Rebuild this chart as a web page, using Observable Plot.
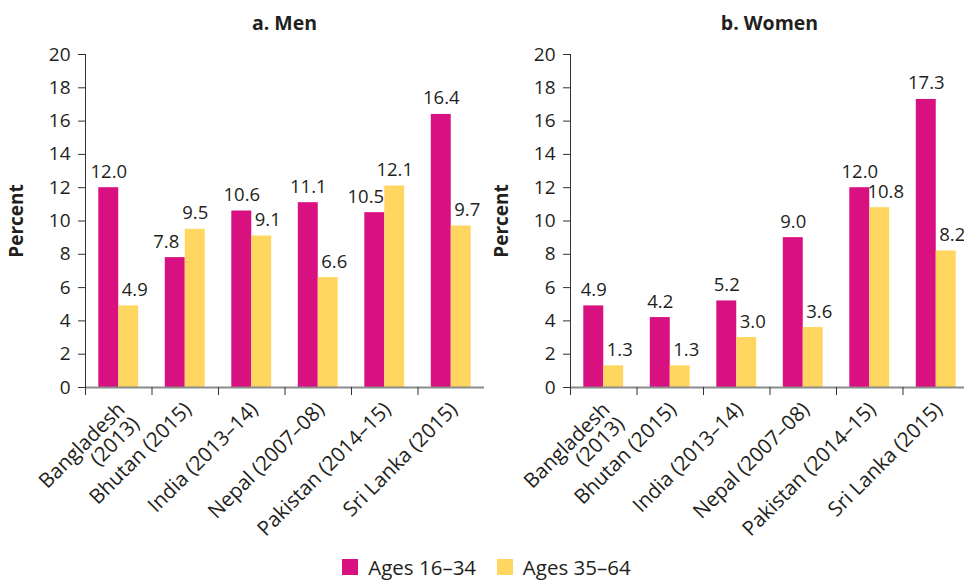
<!DOCTYPE html>
<html><head><meta charset="utf-8">
<script src="https://cdn.jsdelivr.net/npm/d3@7"></script>
<script src="https://cdn.jsdelivr.net/npm/@observablehq/plot@0.6"></script>
<style>
html,body{margin:0;padding:0;background:#fff;overflow:hidden;}
body{width:964px;height:582px;position:relative;font-family:"Open Sans",sans-serif;color:#231f20;}
#row{display:flex;width:964px;}
.panel{overflow:hidden;flex:none;}
.panel svg{max-width:none !important;}
.title{font-weight:bold;font-size:19.5px;height:38px;line-height:30px;padding-top:8px;text-align:center;box-sizing:border-box;}
#legend{position:absolute;left:342px;top:557px;height:20px;}
#legend .lg-swatches-wrap{min-height:0 !important;margin:0 !important;height:20px;}
#legend span{line-height:20px;}
g[aria-label="y-axis label"]{font-weight:bold;font-size:19px;}
g[aria-label="y-axis tick label"]{font-size:19px;}
</style></head><body>
<div id="row"><div class="panel" id="p1" style="width:484px"></div><div class="panel" id="p2" style="width:480px"></div></div>
<div id="legend"></div>
<script>
const countries = ["Bangladesh\n(2013)", "Bhutan (2015)", "India (2013–14)", "Nepal (2007–08)", "Pakistan (2014–15)", "Sri Lanka (2015)"];
const ages = ["Ages 16–34", "Ages 35–64"];
const colors = ["#d9107f", "#ffd65f"];
const menYoung = [12.0, 7.8, 10.6, 11.1, 10.5, 16.4];
const menOld = [4.9, 9.5, 9.1, 6.6, 12.1, 9.7];
const womenYoung = [4.9, 4.2, 5.2, 9.0, 12.0, 17.3];
const womenOld = [1.3, 1.3, 3.0, 3.6, 10.8, 8.2];
const yTicks = [0, 2, 4, 6, 8, 10, 12, 14, 16, 18, 20];
const panelTitles = ["a. Men", "b. Women"];

function panel(el, title, young, old, width, marginLeft) {
  const rows = countries.map((c, i) => ({country: c, young: young[i], old: old[i]}));
  const bw = (width - marginLeft) / countries.length;
  const pad = bw * 0.2, barW = bw * 0.3;
  const cY = -bw / 2 + pad + barW / 2, cO = cY + barW;
  const ink = "#231f20";
  const plot = Plot.plot({
    width, height: 507, marginTop: 16, marginBottom: 158, marginLeft, marginRight: 0,
    style: {fontFamily: "'Open Sans', sans-serif", fontSize: "18.5px", color: ink, background: "white", overflow: "visible", maxWidth: "none"},
    x: {domain: countries, padding: 0, round: false, axis: null},
    y: {domain: [0, 20], axis: null},
    marks: [
      Plot.barY(rows, {x: "country", y: "young", fill: colors[0], insetLeft: pad, insetRight: bw - pad - barW}),
      Plot.barY(rows, {x: "country", y: "old", fill: colors[1], insetLeft: pad + barW, insetRight: pad}),
      Plot.ruleY([0], {stroke: "#8c8c8c", strokeWidth: 2}),
      Plot.ruleX([countries[0]], {x: d => d, dx: -bw / 2, y1: 0, y2: 20, stroke: "#333"}),
      Plot.axisY({ticks: yTicks, tickSize: 7, tickPadding: 8, stroke: "#333", label: "Percent", labelAnchor: "center", labelOffset: 76, labelArrow: "none"}),
      Plot.axisX({tickSize: 8, tickFormat: () => "", dx: -bw / 2, label: null, stroke: "#333"}),
      Plot.text(countries, {x: d => d, frameAnchor: "bottom", rotate: -45, textAnchor: "end", lineAnchor: "top", dy: 13, dx: -3, fill: ink, fontSize: 20.5}),
      Plot.text(rows, {filter: d => d.old <= d.young, x: "country", y: "young", text: d => d.young.toFixed(1), dx: cY, dy: -10, lineAnchor: "bottom", fill: ink}),
      Plot.text(rows, {filter: d => d.old > d.young, x: "country", y: "young", text: d => d.young.toFixed(1), dx: cY - 9, dy: -10, lineAnchor: "bottom", fill: ink}),
      Plot.text(rows, {filter: d => d.old >= d.young, x: "country", y: "old", text: d => d.old.toFixed(1), dx: cO, dy: -10, lineAnchor: "bottom", fill: ink}),
      Plot.text(rows, {filter: d => d.old < d.young, x: "country", y: "old", text: d => d.old.toFixed(1), dx: cO + 6, dy: -10, lineAnchor: "bottom", fill: ink})
    ]
  });
  const t = document.createElement("div");
  t.className = "title";
  t.style.width = width + "px";
  t.style.paddingLeft = marginLeft + "px";
  t.textContent = title;
  el.appendChild(t);
  el.appendChild(plot);
}
panel(document.getElementById("p1"), panelTitles[0], menYoung, menOld, 484, 85);
panel(document.getElementById("p2"), panelTitles[1], womenYoung, womenOld, 485, 86);

const lg = Plot.legend({color: {domain: ages, range: colors}, legend: "swatches", swatchSize: 16, className: "lg",
  style: {fontSize: "20.5px", fontFamily: "'Open Sans', sans-serif", color: "#231f20"}});
document.getElementById("legend").appendChild(lg);
</script>
</body></html>
